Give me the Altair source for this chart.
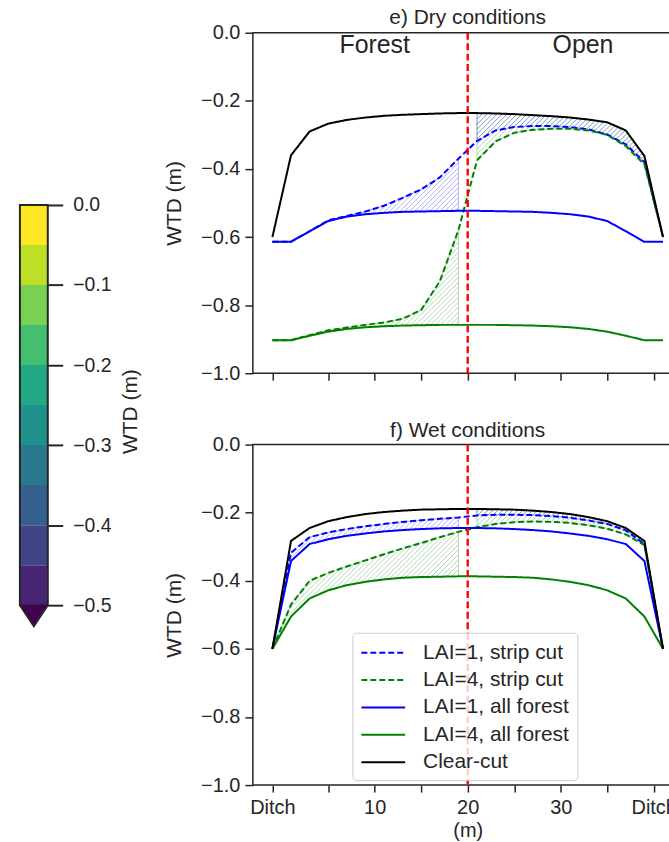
import altair as alt
import numpy as np
import pandas as pd

# ---------------- data ----------------
x_m = [-1, 1, 3, 5, 7, 9, 11, 13, 15, 17, 19, 21, 23, 25, 27, 29, 31, 33, 35, 37, 39, 41]

series_names = ["LAI=1, strip cut", "LAI=4, strip cut", "LAI=1, all forest", "LAI=4, all forest", "Clear-cut"]
series_colors = ["#0000ff", "#008000", "#0000ff", "#008000", "#000000"]
series_dashes = [[6, 3], [6, 3], [1, 0], [1, 0], [1, 0]]

# e) Dry conditions
dry_l1_strip = [-0.614, -0.614, -0.583, -0.551, -0.538, -0.525, -0.508, -0.485, -0.460, -0.425, -0.370,
                -0.318, -0.287, -0.277, -0.274, -0.274, -0.277, -0.284, -0.299, -0.328, -0.380, -0.600]
dry_l4_strip = [-0.903, -0.903, -0.888, -0.874, -0.866, -0.858, -0.851, -0.840, -0.814, -0.730, -0.580,
                -0.375, -0.319, -0.294, -0.285, -0.282, -0.282, -0.287, -0.300, -0.333, -0.387, -0.600]
dry_l1_all = [-0.614, -0.614, -0.583, -0.553, -0.540, -0.533, -0.529, -0.526, -0.525, -0.524, -0.523,
              -0.523, -0.524, -0.525, -0.526, -0.529, -0.533, -0.540, -0.553, -0.583, -0.614, -0.614]
dry_l4_all = [-0.903, -0.903, -0.890, -0.878, -0.870, -0.865, -0.862, -0.860, -0.859, -0.858, -0.858,
              -0.858, -0.858, -0.859, -0.860, -0.862, -0.865, -0.870, -0.878, -0.890, -0.903, -0.903]
dry_clear = [-0.600, -0.360, -0.290, -0.267, -0.256, -0.249, -0.244, -0.241, -0.239, -0.237, -0.236,
             -0.236, -0.237, -0.239, -0.242, -0.245, -0.249, -0.255, -0.263, -0.287, -0.362, -0.600]

# f) Wet conditions
wet_l1_strip = [-0.600, -0.318, -0.272, -0.258, -0.248, -0.240, -0.233, -0.227, -0.222, -0.218, -0.214,
                -0.208, -0.206, -0.206, -0.207, -0.210, -0.215, -0.223, -0.233, -0.252, -0.292, -0.600]
wet_l4_strip = [-0.600, -0.470, -0.400, -0.377, -0.358, -0.340, -0.322, -0.305, -0.289, -0.272, -0.256,
                -0.243, -0.233, -0.228, -0.226, -0.227, -0.230, -0.237, -0.247, -0.264, -0.295, -0.600]
wet_l1_all = [-0.600, -0.342, -0.292, -0.278, -0.268, -0.261, -0.255, -0.251, -0.248, -0.246, -0.245,
              -0.245, -0.246, -0.248, -0.251, -0.255, -0.261, -0.268, -0.278, -0.292, -0.342, -0.600]
wet_l4_all = [-0.600, -0.505, -0.452, -0.428, -0.413, -0.403, -0.396, -0.391, -0.389, -0.388, -0.387,
              -0.387, -0.388, -0.389, -0.391, -0.396, -0.403, -0.413, -0.428, -0.452, -0.505, -0.600]
wet_clear = [-0.600, -0.283, -0.245, -0.225, -0.213, -0.204, -0.198, -0.194, -0.191, -0.190, -0.189,
             -0.189, -0.190, -0.191, -0.194, -0.198, -0.204, -0.213, -0.225, -0.245, -0.283, -0.600]

split_x = [20]
forest_range = [-1, 19]
open_range = [21, 41]

xtick_vals = [-1, 5, 10, 15, 20, 25, 30, 35, 40]
xtick_labels = ["Ditch", "", "10", "", "20", "", "30", "", "Ditch"]
ytick_vals = [0.0, -0.2, -0.4, -0.6, -0.8, -1.0]

region_labels = ["Forest", "Open"]
region_label_x = [10.0, 32.4]
region_label_y = [-0.037, -0.037]

cb_lo = [-0.50, -0.45, -0.40, -0.35, -0.30, -0.25, -0.20, -0.15, -0.10, -0.05]
cb_hi = [-0.45, -0.40, -0.35, -0.30, -0.25, -0.20, -0.15, -0.10, -0.05, 0.00]
cb_colors = ["#482475", "#414487", "#355f8d", "#2a788e", "#21918c",
             "#22a884", "#44bf70", "#7ad151", "#bddf26", "#fde725"]
cb_under = ["#440154"]
cb_ticks = [0.0, -0.1, -0.2, -0.3, -0.4, -0.5]

# ---------------- layout / style ----------------
FONT = "Liberation Sans"
TXT = "#262626"
W, H = 431.6, 342
XMIN, XMAX = -3.1, 43.1
YMIN, YMAX = -1.0, 0.0
SX = W / (XMAX - XMIN)
SY = H / (YMAX - YMIN)

CBW = 28
CB_TOP = 31          # colorbar origin aligns with the top panel's plot top
CB_PX_PER_UNIT = 804
CBH = 760
CB_DMAX = (204 - CB_TOP) / CB_PX_PER_UNIT
CB_DMIN = CB_DMAX - CBH / CB_PX_PER_UNIT

xscale = alt.Scale(domain=[XMIN, XMAX], nice=False, zero=False)
yscale = alt.Scale(domain=[YMIN, YMAX], nice=False, zero=False)

label_expr = "''"
for v, lab in reversed(list(zip(xtick_vals, xtick_labels))):
    label_expr = f"datum.value == {v} ? '{lab}' : ({label_expr})"


def hatch_segments(upper, lower, x0, x1, spacing=5.0):
    xx = np.linspace(x0, x1, 1601)
    up = np.interp(xx, x_m, upper)
    lo = np.interp(xx, x_m, lower)
    px = (xx - XMIN) * SX
    vlo = (lo - YMIN) * SY
    vup = (up - YMIN) * SY
    cmin = np.floor((vlo - px).min() / spacing) * spacing
    cmax = (vup - px).max()
    recs = []
    seg = 0
    for c in np.arange(cmin, cmax + spacing, spacing):
        vline = px + c
        inside = (vline >= vlo) & (vline <= vup)
        if not inside.any():
            continue
        idx = np.flatnonzero(inside)
        br = np.flatnonzero(np.diff(idx) > 1)
        starts = np.r_[idx[0], idx[br + 1]]
        ends = np.r_[idx[br], idx[-1]]
        for s, e in zip(starts, ends):
            if e <= s:
                continue
            for k in (s, e):
                recs.append({"x": float(xx[k]), "v": float(vline[k] / SY + YMIN), "seg": seg})
            seg += 1
    return pd.DataFrame(recs, columns=["x", "v", "seg"])


def region_df(upper, lower, x0, x1):
    rows = [{"x": xv, "up": u, "lo": l} for xv, u, l in zip(x_m, upper, lower) if x0 <= xv <= x1]
    return pd.DataFrame(rows)


def panel(values, title, title_offset, bottom, with_labels):
    l1s, l4s, l1a, l4a, clr = values
    regions = [
        (l4s, l4a, forest_range, "#008000", 0.30),
        (l1s, l1a, forest_range, "#0000ff", 0.30),
        (clr, l4s, open_range, "#008000", 0.30),
        (clr, l1s, open_range, "#0000ff", 0.28),
    ]
    rows = []
    for name, vals in zip(series_names, values):
        for xv, yv in zip(x_m, vals):
            rows.append({"x": xv, "v": yv, "series": name})
    ldf = pd.DataFrame(rows)

    if bottom:
        leg = alt.Legend(
            title=None, orient="none", legendX=100, legendY=189,
            symbolType="M-2,0L2,0", symbolSize=484, symbolStrokeWidth=2,
            symbolOffset=11, labelOffset=28,
            labelFont=FONT, labelFontSize=21, labelColor=TXT, labelLimit=400,
            padding=8, rowPadding=5.5,
            strokeColor="#cccccc", fillColor="rgba(255,255,255,0.8)", cornerRadius=4,
        )
        xaxis = alt.Axis(values=xtick_vals, labelExpr=label_expr, title="(m)", grid=False, domain=False,
                         tickSize=7, tickWidth=1.5, tickColor=TXT, labelFontSize=20, labelPadding=6,
                         labelColor=TXT, titleFontSize=20, titleFontWeight="normal", titleColor=TXT,
                         titlePadding=3, labelFlush=False, labelOverlap=False)
    else:
        leg = None
        xaxis = alt.Axis(values=xtick_vals, labels=False, title=None, grid=False, domain=False,
                         tickSize=7, tickWidth=1.5, tickColor=TXT)

    yaxis = alt.Axis(values=ytick_vals, format=".1f", title="WTD (m)", grid=False, domain=False,
                     tickSize=8, tickWidth=1.5, tickColor=TXT, labelFontSize=20, labelColor=TXT,
                     labelPadding=5, titleFontSize=21, titleFontWeight="normal", titleColor=TXT,
                     titleAngle=270, titleBaseline="bottom", titlePadding=16,
                     labelFlush=False, labelOverlap=False)

    layers = []
    for up, lo, rng, col, op in regions:
        hd = hatch_segments(up, lo, rng[0], rng[1])
        layers.append(
            alt.Chart(hd).mark_line(color=col, strokeWidth=1, opacity=op).encode(
                x=alt.X("x:Q", scale=xscale, axis=xaxis),
                y=alt.Y("v:Q", scale=yscale, axis=yaxis),
                detail="seg:N",
            )
        )
        rd = region_df(up, lo, rng[0], rng[1])
        layers.append(
            alt.Chart(rd).mark_area(fillOpacity=0, stroke=col, strokeOpacity=op, strokeWidth=1).encode(
                x=alt.X("x:Q", scale=xscale, axis=xaxis),
                y=alt.Y("up:Q", scale=yscale, axis=yaxis),
                y2="lo:Q",
            )
        )

    color_enc = alt.Color("series:N", scale=alt.Scale(domain=series_names, range=series_colors),
                          legend=leg)
    dash_enc = alt.StrokeDash("series:N", scale=alt.Scale(domain=series_names, range=series_dashes),
                              legend=leg)
    lines = alt.Chart(ldf).mark_line(strokeWidth=2).encode(
        x=alt.X("x:Q", scale=xscale, axis=xaxis),
        y=alt.Y("v:Q", scale=yscale, axis=yaxis),
        color=color_enc,
        strokeDash=dash_enc,
        detail="series:N",
    )
    layers.append(lines)

    red = alt.Chart(pd.DataFrame({"x": split_x})).mark_rule(
        color="#ff0000", strokeDash=[7, 3.5], strokeWidth=2.4
    ).encode(x=alt.X("x:Q", scale=xscale, axis=xaxis))
    layers.append(red)

    if with_labels:
        tdf = pd.DataFrame({"x": region_label_x, "v": region_label_y, "label": region_labels})
        layers.append(
            alt.Chart(tdf).mark_text(font=FONT, fontSize=25, color=TXT, align="center",
                                     baseline="middle").encode(
                x=alt.X("x:Q", scale=xscale, axis=xaxis),
                y=alt.Y("v:Q", scale=yscale, axis=yaxis),
                text="label:N")
        )

    return alt.layer(*layers).properties(
        width=W, height=H,
        title=alt.TitleParams(title, font=FONT, fontSize=21, fontWeight="normal", color=TXT,
                              anchor="middle", dx=0, offset=title_offset, baseline="bottom"),
        view=alt.ViewBackground(stroke=TXT, strokeWidth=1.5),
    )


top = panel([dry_l1_strip, dry_l4_strip, dry_l1_all, dry_l4_all, dry_clear],
            "e) Dry conditions", -26, False, True)
bottom = panel([wet_l1_strip, wet_l4_strip, wet_l1_all, wet_l4_all, wet_clear],
               "f) Wet conditions", -27, True, False)

panels = alt.vconcat(top, bottom, spacing=34.7).resolve_scale(
    color="independent", strokeDash="independent"
).resolve_legend(color="independent", strokeDash="independent")

# ---------------- colorbar ----------------
cbscale = alt.Scale(domain=[CB_DMIN, CB_DMAX], nice=False, zero=False)
cb_df = pd.DataFrame({"lo": cb_lo, "hi": cb_hi, "color": cb_colors})
cb_axis = alt.Axis(orient="right", values=cb_ticks, format=".1f", grid=False, domain=False,
                   tickSize=15, tickWidth=2, tickColor=TXT, labelFontSize=19.5, labelColor=TXT,
                   labelPadding=10, title="WTD (m)", titleFontSize=21, titleFontWeight="normal",
                   titleColor=TXT, titleAngle=270, titleBaseline="top", titlePadding=9,
                   labelFlush=False, labelOverlap=False)
cb_rect = alt.Chart(cb_df).mark_rect().encode(
    y=alt.Y("lo:Q", scale=cbscale, axis=cb_axis),
    y2="hi:Q",
    x=alt.value(0), x2=alt.value(CBW),
    color=alt.Color("color:N", scale=None),
)
cb_border = alt.Chart(pd.DataFrame({"lo": [cb_lo[0]], "hi": [cb_hi[-1]]})).mark_rect(
    filled=False, stroke=TXT, strokeWidth=2
).encode(y="lo:Q", y2="hi:Q", x=alt.value(0), x2=alt.value(CBW))
cb_tri = alt.Chart(pd.DataFrame({"v": [cb_lo[0]], "c": cb_under})).mark_point(
    shape="M-1,0L0,1.5L1,0", size=CBW * CBW, filled=True, fill=cb_under[0], fillOpacity=1,
    stroke=TXT, strokeWidth=2, opacity=1
).encode(y="v:Q", x=alt.value(CBW / 2))
colorbar = alt.layer(cb_rect, cb_border, cb_tri).properties(
    width=CBW, height=CBH, view=alt.ViewBackground(stroke="transparent")
)

chart = alt.hconcat(colorbar, panels, spacing=21).properties(
    padding={"left": 15, "top": 4, "right": -15, "bottom": 0},
    background="white",
).configure(font=FONT)

chart.save("out.html", embed_options={"renderer": "svg", "actions": False})
